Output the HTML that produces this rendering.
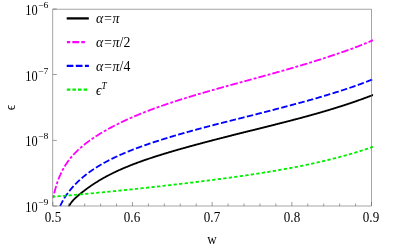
<!DOCTYPE html>
<html><head><meta charset="utf-8"><title>plot</title>
<style>
html,body{margin:0;padding:0;background:#fff;}
body{width:401px;height:249px;overflow:hidden;position:relative;font-family:"Liberation Serif",serif;color:#000;}
svg{position:absolute;left:0;top:0;}
.t{position:absolute;font-size:14px;line-height:14px;white-space:nowrap;filter:grayscale(1);}
.t sup{font-size:9px;line-height:0;vertical-align:baseline;position:relative;top:-6px;}
.yb{text-align:right;width:37.6px;left:0;font-size:14.2px;transform:scaleX(.87);transform-origin:100% 50%;}
.ys{left:37.7px;font-size:9px;transform:scaleX(1.09);transform-origin:0 50%;}
.xl{text-align:center;width:40px;transform:scaleX(.935);transform-origin:50% 50%;}
.u{font-style:normal;}
.lg{font-style:italic;font-size:14.2px;left:95.7px;transform:scaleX(0.975);transform-origin:0 50%;}
</style></head><body>
<svg width="401" height="249" viewBox="0 0 401 249">
<defs><clipPath id="c"><rect x="52.5" y="9.15" width="320.7" height="197.15"/></clipPath></defs>
<g fill="none" stroke-linecap="butt" stroke-linejoin="round" clip-path="url(#c)">
<path d="M68.0,208.2 L68.5,207.1 L69.0,206.1 L69.5,205.2 L70.0,204.4 L70.5,203.6 L71.0,202.9 L71.5,202.2 L72.0,201.6 L72.5,201.0 L73.0,200.5 L73.5,199.9 L74.0,199.4 L74.5,198.9 L75.0,198.4 L75.5,197.9 L76.0,197.5 L76.5,197.0 L77.0,196.6 L77.5,196.1 L78.0,195.7 L78.5,195.3 L79.0,194.8 L79.5,194.4 L80.0,194.0 L80.5,193.6 L81.0,193.2 L81.5,192.8 L82.0,192.4 L82.5,192.0 L83.0,191.6 L83.5,191.2 L84.0,190.9 L84.5,190.5 L85.0,190.1 L85.5,189.7 L86.0,189.3 L86.5,189.0 L87.0,188.6 L87.5,188.3 L88.0,187.9 L88.5,187.5 L89.0,187.2 L89.5,186.8 L90.0,186.5 L90.5,186.1 L91.0,185.8 L91.5,185.4 L92.0,185.1 L92.5,184.8 L93.0,184.4 L93.5,184.1 L94.0,183.8 L94.5,183.5 L95.0,183.1 L95.5,182.8 L96.0,182.5 L96.5,182.2 L97.0,181.9 L97.5,181.6 L98.0,181.2 L98.5,180.9 L99.0,180.6 L99.5,180.3 L100.0,180.0 L100.5,179.7 L101.0,179.4 L101.5,179.2 L102.0,178.9 L102.5,178.6 L103.0,178.3 L103.5,178.0 L104.0,177.7 L104.5,177.5 L105.0,177.2 L105.5,176.9 L106.0,176.6 L106.5,176.4 L107.0,176.1 L107.5,175.8 L108.0,175.6 L108.5,175.3 L109.0,175.0 L109.5,174.8 L110.0,174.5 L110.5,174.3 L111.0,174.0 L111.5,173.8 L112.0,173.5 L112.5,173.3 L113.0,173.0 L113.5,172.8 L114.0,172.5 L114.5,172.3 L115.0,172.1 L115.5,171.8 L116.0,171.6 L116.5,171.3 L117.0,171.1 L117.5,170.9 L118.0,170.7 L118.5,170.4 L119.0,170.2 L119.5,170.0 L120.0,169.8 L120.5,169.5 L121.0,169.3 L121.5,169.1 L122.0,168.9 L122.5,168.7 L123.0,168.4 L123.5,168.2 L124.0,168.0 L124.5,167.8 L125.0,167.6 L125.5,167.4 L126.0,167.2 L126.5,167.0 L127.0,166.8 L127.5,166.6 L128.0,166.4 L128.4,166.2 L128.9,166.0 L129.4,165.8 L129.9,165.6 L130.4,165.4 L130.9,165.2 L131.4,165.0 L131.9,164.8 L132.4,164.6 L132.9,164.4 L133.4,164.2 L133.9,164.0 L134.4,163.8 L134.9,163.6 L135.4,163.5 L135.9,163.3 L136.4,163.1 L136.9,162.9 L137.4,162.7 L137.9,162.5 L138.4,162.3 L138.9,162.2 L139.4,162.0 L139.9,161.8 L140.4,161.6 L140.9,161.4 L141.4,161.3 L141.9,161.1 L142.4,160.9 L142.9,160.7 L143.4,160.6 L143.9,160.4 L144.4,160.2 L144.9,160.0 L145.4,159.9 L145.9,159.7 L146.4,159.5 L146.9,159.4 L147.4,159.2 L147.9,159.0 L148.4,158.8 L148.9,158.7 L149.4,158.5 L149.9,158.3 L150.4,158.2 L150.9,158.0 L151.4,157.8 L151.9,157.7 L152.4,157.5 L152.9,157.4 L153.4,157.2 L153.9,157.0 L154.4,156.9 L154.9,156.7 L155.4,156.5 L155.9,156.4 L156.4,156.2 L156.9,156.1 L157.4,155.9 L157.9,155.7 L158.4,155.6 L158.9,155.4 L159.4,155.3 L159.9,155.1 L160.4,155.0 L160.9,154.8 L161.4,154.6 L161.9,154.5 L162.4,154.3 L162.9,154.2 L163.4,154.0 L163.9,153.9 L164.4,153.7 L164.9,153.6 L165.4,153.4 L165.9,153.3 L166.4,153.1 L166.9,153.0 L167.4,152.8 L167.9,152.7 L168.4,152.5 L168.9,152.4 L169.4,152.2 L169.9,152.1 L170.4,151.9 L170.9,151.8 L171.4,151.6 L171.9,151.5 L172.4,151.3 L172.9,151.2 L173.4,151.0 L173.9,150.9 L174.4,150.7 L174.9,150.6 L175.4,150.5 L175.9,150.3 L176.4,150.2 L176.9,150.0 L177.4,149.9 L177.9,149.7 L178.4,149.6 L178.9,149.4 L179.4,149.3 L179.9,149.2 L180.4,149.0 L180.9,148.9 L181.4,148.7 L181.9,148.6 L182.4,148.5 L182.9,148.3 L183.4,148.2 L183.9,148.0 L184.4,147.9 L184.9,147.8 L185.4,147.6 L185.9,147.5 L186.4,147.3 L186.9,147.2 L187.4,147.1 L187.9,146.9 L188.4,146.8 L188.9,146.6 L189.4,146.5 L189.9,146.4 L190.4,146.2 L190.9,146.1 L191.4,146.0 L191.9,145.8 L192.4,145.7 L192.9,145.6 L193.4,145.4 L193.9,145.3 L194.4,145.1 L194.9,145.0 L195.4,144.9 L195.9,144.7 L196.4,144.6 L196.9,144.5 L197.4,144.3 L197.9,144.2 L198.4,144.1 L198.9,143.9 L199.4,143.8 L199.9,143.7 L200.4,143.5 L200.9,143.4 L201.4,143.3 L201.9,143.1 L202.4,143.0 L202.9,142.9 L203.4,142.7 L203.9,142.6 L204.4,142.5 L204.9,142.3 L205.4,142.2 L205.9,142.1 L206.4,141.9 L206.9,141.8 L207.4,141.7 L207.9,141.5 L208.4,141.4 L208.9,141.3 L209.4,141.1 L209.9,141.0 L210.4,140.9 L210.9,140.8 L211.4,140.6 L211.9,140.5 L212.4,140.4 L212.9,140.2 L213.4,140.1 L213.9,140.0 L214.4,139.8 L214.9,139.7 L215.4,139.6 L215.9,139.5 L216.4,139.3 L216.9,139.2 L217.4,139.1 L217.9,138.9 L218.4,138.8 L218.9,138.7 L219.4,138.6 L219.9,138.4 L220.4,138.3 L220.9,138.2 L221.4,138.0 L221.9,137.9 L222.4,137.8 L222.9,137.7 L223.4,137.5 L223.9,137.4 L224.4,137.3 L224.9,137.1 L225.4,137.0 L225.9,136.9 L226.4,136.8 L226.9,136.6 L227.4,136.5 L227.9,136.4 L228.4,136.3 L228.9,136.1 L229.4,136.0 L229.9,135.9 L230.4,135.8 L230.9,135.6 L231.4,135.5 L231.9,135.4 L232.4,135.2 L232.9,135.1 L233.4,135.0 L233.9,134.9 L234.4,134.7 L234.9,134.6 L235.4,134.5 L235.9,134.4 L236.4,134.2 L236.9,134.1 L237.4,134.0 L237.9,133.9 L238.4,133.7 L238.9,133.6 L239.4,133.5 L239.9,133.4 L240.4,133.2 L240.9,133.1 L241.4,133.0 L241.9,132.9 L242.4,132.7 L242.9,132.6 L243.4,132.5 L243.9,132.4 L244.4,132.2 L244.9,132.1 L245.4,132.0 L245.9,131.9 L246.4,131.7 L246.9,131.6 L247.4,131.5 L247.9,131.4 L248.4,131.2 L248.9,131.1 L249.4,131.0 L249.9,130.9 L250.4,130.7 L250.9,130.6 L251.4,130.5 L251.9,130.4 L252.4,130.3 L252.9,130.1 L253.4,130.0 L253.9,129.9 L254.4,129.8 L254.9,129.6 L255.4,129.5 L255.9,129.4 L256.4,129.3 L256.9,129.1 L257.4,129.0 L257.9,128.9 L258.4,128.8 L258.9,128.6 L259.4,128.5 L259.9,128.4 L260.4,128.3 L260.9,128.1 L261.4,128.0 L261.9,127.9 L262.4,127.8 L262.9,127.6 L263.4,127.5 L263.9,127.4 L264.4,127.3 L264.9,127.1 L265.4,127.0 L265.9,126.9 L266.4,126.8 L266.9,126.6 L267.4,126.5 L267.9,126.4 L268.4,126.3 L268.9,126.1 L269.4,126.0 L269.9,125.9 L270.4,125.8 L270.9,125.6 L271.4,125.5 L271.9,125.4 L272.4,125.3 L272.9,125.1 L273.4,125.0 L273.9,124.9 L274.4,124.8 L274.9,124.6 L275.4,124.5 L275.9,124.4 L276.4,124.2 L276.9,124.1 L277.4,124.0 L277.9,123.9 L278.4,123.7 L278.9,123.6 L279.4,123.5 L279.9,123.4 L280.4,123.2 L280.9,123.1 L281.4,123.0 L281.9,122.9 L282.4,122.7 L282.9,122.6 L283.4,122.5 L283.9,122.3 L284.4,122.2 L284.9,122.1 L285.4,122.0 L285.9,121.8 L286.4,121.7 L286.9,121.6 L287.4,121.4 L287.9,121.3 L288.4,121.2 L288.9,121.1 L289.4,120.9 L289.9,120.8 L290.4,120.7 L290.9,120.5 L291.4,120.4 L291.9,120.3 L292.4,120.1 L292.9,120.0 L293.4,119.9 L293.9,119.7 L294.4,119.6 L294.9,119.5 L295.4,119.4 L295.9,119.2 L296.4,119.1 L296.9,119.0 L297.4,118.8 L297.9,118.7 L298.4,118.6 L298.9,118.4 L299.4,118.3 L299.9,118.2 L300.4,118.0 L300.9,117.9 L301.4,117.8 L301.9,117.6 L302.4,117.5 L302.9,117.4 L303.4,117.2 L303.9,117.1 L304.4,116.9 L304.9,116.8 L305.4,116.7 L305.9,116.5 L306.4,116.4 L306.9,116.3 L307.4,116.1 L307.9,116.0 L308.4,115.9 L308.9,115.7 L309.4,115.6 L309.9,115.4 L310.4,115.3 L310.9,115.2 L311.4,115.0 L311.9,114.9 L312.4,114.7 L312.9,114.6 L313.4,114.5 L313.9,114.3 L314.4,114.2 L314.9,114.0 L315.4,113.9 L315.9,113.8 L316.4,113.6 L316.9,113.5 L317.4,113.3 L317.9,113.2 L318.4,113.0 L318.9,112.9 L319.4,112.8 L319.9,112.6 L320.4,112.5 L320.9,112.3 L321.4,112.2 L321.9,112.0 L322.4,111.9 L322.9,111.7 L323.4,111.6 L323.9,111.5 L324.4,111.3 L324.9,111.2 L325.4,111.0 L325.9,110.9 L326.4,110.7 L326.9,110.6 L327.4,110.4 L327.9,110.3 L328.4,110.1 L328.9,110.0 L329.4,109.8 L329.9,109.7 L330.4,109.5 L330.9,109.4 L331.4,109.2 L331.9,109.1 L332.4,108.9 L332.9,108.8 L333.4,108.6 L333.9,108.4 L334.4,108.3 L334.9,108.1 L335.4,108.0 L335.9,107.8 L336.4,107.7 L336.9,107.5 L337.4,107.4 L337.9,107.2 L338.4,107.0 L338.9,106.9 L339.4,106.7 L339.9,106.6 L340.4,106.4 L340.9,106.3 L341.4,106.1 L341.9,105.9 L342.4,105.8 L342.9,105.6 L343.4,105.5 L343.9,105.3 L344.4,105.1 L344.9,105.0 L345.4,104.8 L345.9,104.6 L346.4,104.5 L346.9,104.3 L347.4,104.1 L347.9,104.0 L348.4,103.8 L348.9,103.6 L349.4,103.5 L349.9,103.3 L350.4,103.1 L350.9,103.0 L351.4,102.8 L351.9,102.6 L352.4,102.5 L352.9,102.3 L353.4,102.1 L353.9,101.9 L354.4,101.8 L354.9,101.6 L355.4,101.4 L355.9,101.3 L356.4,101.1 L356.9,100.9 L357.4,100.7 L357.9,100.6 L358.4,100.4 L358.9,100.2 L359.4,100.0 L359.9,99.8 L360.4,99.7 L360.9,99.5 L361.4,99.3 L361.9,99.1 L362.4,99.0 L362.9,98.8 L363.4,98.6 L363.9,98.4 L364.4,98.2 L364.9,98.0 L365.4,97.9 L365.9,97.7 L366.4,97.5 L366.9,97.3 L367.4,97.1 L367.9,96.9 L368.4,96.7 L368.9,96.6 L369.4,96.4 L369.9,96.2 L370.4,96.0 L370.9,95.8 L371.4,95.6 L371.5,95.6 L372.0,95.4 L372.5,95.2 L373.2,94.9" stroke="#000" stroke-width="1.8"/>
<path d="M52.7,197.9 L53.2,196.7 L53.7,195.0 L54.2,193.2 L54.7,191.3 L55.2,189.4 L55.7,187.7 L56.2,186.0 L56.7,184.4 L57.2,182.8 L57.7,181.3 L58.2,179.9 L58.7,178.6 L59.2,177.3 L59.7,176.1 L60.2,175.0 L60.7,173.8 L61.2,172.8 L61.7,171.7 L62.2,170.7 L62.7,169.8 L63.2,168.9 L63.7,168.0 L64.2,167.1 L64.7,166.3 L65.2,165.5 L65.7,164.7 L66.2,163.9 L66.7,163.2 L67.2,162.4 L67.7,161.7 L68.2,161.0 L68.7,160.4 L69.2,159.7 L69.7,159.1 L70.2,158.4 L70.7,157.8 L71.2,157.2 L71.7,156.6 L72.2,156.1 L72.7,155.5 L73.2,154.9 L73.7,154.4 L74.2,153.9 L74.7,153.3 L75.2,152.8 L75.7,152.3 L76.2,151.8 L76.7,151.3 L77.2,150.8 L77.7,150.3 L78.2,149.9 L78.7,149.4 L79.2,149.0 L79.7,148.5 L80.2,148.1 L80.7,147.6 L81.2,147.2 L81.7,146.8 L82.2,146.3 L82.7,145.9 L83.2,145.5 L83.7,145.1 L84.2,144.7 L84.7,144.3 L85.2,143.9 L85.7,143.5 L86.2,143.1 L86.7,142.7 L87.2,142.4 L87.7,142.0 L88.2,141.6 L88.7,141.2 L89.2,140.9 L89.7,140.5 L90.2,140.2 L90.7,139.8 L91.2,139.5 L91.7,139.1 L92.2,138.8 L92.7,138.4 L93.2,138.1 L93.7,137.7 L94.2,137.4 L94.7,137.1 L95.2,136.8 L95.7,136.4 L96.2,136.1 L96.7,135.8 L97.2,135.5 L97.7,135.2 L98.2,134.8 L98.7,134.5 L99.2,134.2 L99.7,133.9 L100.2,133.6 L100.7,133.3 L101.2,133.0 L101.7,132.7 L102.2,132.4 L102.7,132.1 L103.2,131.8 L103.7,131.5 L104.2,131.2 L104.7,131.0 L105.2,130.7 L105.7,130.4 L106.2,130.1 L106.7,129.8 L107.2,129.5 L107.7,129.3 L108.2,129.0 L108.7,128.7 L109.2,128.4 L109.7,128.2 L110.2,127.9 L110.7,127.6 L111.2,127.4 L111.7,127.1 L112.2,126.8 L112.7,126.6 L113.2,126.3 L113.7,126.0 L114.2,125.8 L114.7,125.5 L115.2,125.3 L115.7,125.0 L116.2,124.8 L116.7,124.5 L117.2,124.3 L117.7,124.0 L118.2,123.8 L118.7,123.5 L119.2,123.3 L119.7,123.0 L120.2,122.8 L120.7,122.6 L121.2,122.3 L121.7,122.1 L122.2,121.8 L122.7,121.6 L123.2,121.4 L123.7,121.1 L124.2,120.9 L124.7,120.7 L125.2,120.4 L125.7,120.2 L126.2,120.0 L126.7,119.7 L127.2,119.5 L127.7,119.3 L128.2,119.1 L128.7,118.8 L129.2,118.6 L129.7,118.4 L130.2,118.2 L130.7,118.0 L131.2,117.7 L131.7,117.5 L132.2,117.3 L132.7,117.1 L133.2,116.9 L133.7,116.7 L134.2,116.4 L134.7,116.2 L135.2,116.0 L135.7,115.8 L136.2,115.6 L136.7,115.4 L137.2,115.2 L137.7,115.0 L138.2,114.8 L138.7,114.5 L139.2,114.3 L139.7,114.1 L140.2,113.9 L140.7,113.7 L141.2,113.5 L141.7,113.3 L142.2,113.1 L142.7,112.9 L143.2,112.7 L143.7,112.5 L144.2,112.3 L144.7,112.1 L145.2,111.9 L145.7,111.7 L146.2,111.5 L146.7,111.3 L147.2,111.1 L147.7,111.0 L148.2,110.8 L148.7,110.6 L149.2,110.4 L149.7,110.2 L150.2,110.0 L150.7,109.8 L151.2,109.6 L151.7,109.4 L152.2,109.3 L152.7,109.1 L153.2,108.9 L153.7,108.7 L154.2,108.5 L154.7,108.3 L155.2,108.2 L155.7,108.0 L156.2,107.8 L156.7,107.6 L157.2,107.4 L157.7,107.3 L158.2,107.1 L158.7,106.9 L159.2,106.7 L159.7,106.5 L160.2,106.4 L160.7,106.2 L161.2,106.0 L161.7,105.8 L162.2,105.7 L162.7,105.5 L163.2,105.3 L163.7,105.2 L164.2,105.0 L164.7,104.8 L165.2,104.6 L165.7,104.5 L166.2,104.3 L166.7,104.1 L167.2,104.0 L167.7,103.8 L168.2,103.6 L168.7,103.5 L169.2,103.3 L169.7,103.1 L170.2,103.0 L170.7,102.8 L171.2,102.6 L171.7,102.5 L172.2,102.3 L172.7,102.1 L173.2,102.0 L173.7,101.8 L174.2,101.6 L174.7,101.5 L175.2,101.3 L175.7,101.2 L176.2,101.0 L176.7,100.8 L177.2,100.7 L177.7,100.5 L178.2,100.4 L178.7,100.2 L179.2,100.0 L179.7,99.9 L180.2,99.7 L180.7,99.6 L181.2,99.4 L181.7,99.2 L182.2,99.1 L182.7,98.9 L183.2,98.8 L183.7,98.6 L184.2,98.5 L184.7,98.3 L185.2,98.2 L185.7,98.0 L186.2,97.8 L186.7,97.7 L187.2,97.5 L187.7,97.4 L188.2,97.2 L188.7,97.1 L189.2,96.9 L189.7,96.8 L190.2,96.6 L190.7,96.5 L191.2,96.3 L191.7,96.2 L192.2,96.0 L192.7,95.9 L193.2,95.7 L193.7,95.6 L194.2,95.4 L194.7,95.3 L195.2,95.1 L195.7,95.0 L196.2,94.8 L196.7,94.7 L197.2,94.5 L197.7,94.4 L198.2,94.2 L198.7,94.1 L199.2,93.9 L199.7,93.8 L200.2,93.6 L200.7,93.5 L201.2,93.3 L201.7,93.2 L202.2,93.1 L202.7,92.9 L203.2,92.8 L203.7,92.6 L204.2,92.5 L204.7,92.3 L205.2,92.2 L205.7,92.0 L206.2,91.9 L206.7,91.8 L207.2,91.6 L207.7,91.5 L208.2,91.3 L208.7,91.2 L209.2,91.0 L209.7,90.9 L210.2,90.8 L210.7,90.6 L211.2,90.5 L211.7,90.3 L212.2,90.2 L212.7,90.0 L213.2,89.9 L213.7,89.8 L214.2,89.6 L214.7,89.5 L215.2,89.3 L215.7,89.2 L216.2,89.1 L216.7,88.9 L217.2,88.8 L217.7,88.6 L218.2,88.5 L218.7,88.4 L219.2,88.2 L219.7,88.1 L220.2,87.9 L220.7,87.8 L221.2,87.7 L221.7,87.5 L222.2,87.4 L222.7,87.2 L223.2,87.1 L223.7,87.0 L224.2,86.8 L224.7,86.7 L225.2,86.6 L225.7,86.4 L226.2,86.3 L226.7,86.1 L227.2,86.0 L227.7,85.9 L228.2,85.7 L228.7,85.6 L229.2,85.4 L229.7,85.3 L230.2,85.2 L230.7,85.0 L231.2,84.9 L231.7,84.8 L232.2,84.6 L232.7,84.5 L233.2,84.3 L233.7,84.2 L234.2,84.1 L234.7,83.9 L235.2,83.8 L235.7,83.7 L236.2,83.5 L236.7,83.4 L237.2,83.3 L237.7,83.1 L238.2,83.0 L238.7,82.8 L239.2,82.7 L239.7,82.6 L240.2,82.4 L240.7,82.3 L241.2,82.2 L241.7,82.0 L242.2,81.9 L242.7,81.8 L243.2,81.6 L243.7,81.5 L244.2,81.3 L244.7,81.2 L245.2,81.1 L245.7,80.9 L246.2,80.8 L246.7,80.7 L247.2,80.5 L247.7,80.4 L248.2,80.3 L248.7,80.1 L249.2,80.0 L249.7,79.8 L250.2,79.7 L250.7,79.6 L251.2,79.4 L251.7,79.3 L252.2,79.2 L252.7,79.0 L253.2,78.9 L253.7,78.7 L254.2,78.6 L254.7,78.5 L255.2,78.3 L255.7,78.2 L256.2,78.1 L256.7,77.9 L257.2,77.8 L257.7,77.7 L258.2,77.5 L258.7,77.4 L259.2,77.2 L259.7,77.1 L260.2,77.0 L260.7,76.8 L261.2,76.7 L261.7,76.6 L262.2,76.4 L262.7,76.3 L263.2,76.1 L263.7,76.0 L264.2,75.9 L264.7,75.7 L265.2,75.6 L265.7,75.5 L266.2,75.3 L266.7,75.2 L267.2,75.0 L267.7,74.9 L268.2,74.8 L268.7,74.6 L269.2,74.5 L269.7,74.3 L270.2,74.2 L270.7,74.1 L271.2,73.9 L271.7,73.8 L272.2,73.6 L272.7,73.5 L273.2,73.4 L273.7,73.2 L274.2,73.1 L274.7,73.0 L275.2,72.8 L275.7,72.7 L276.2,72.5 L276.7,72.4 L277.2,72.2 L277.7,72.1 L278.2,72.0 L278.7,71.8 L279.2,71.7 L279.7,71.5 L280.2,71.4 L280.7,71.3 L281.2,71.1 L281.7,71.0 L282.2,70.8 L282.7,70.7 L283.2,70.6 L283.7,70.4 L284.2,70.3 L284.7,70.1 L285.2,70.0 L285.7,69.8 L286.2,69.7 L286.7,69.6 L287.2,69.4 L287.7,69.3 L288.2,69.1 L288.7,69.0 L289.2,68.8 L289.7,68.7 L290.2,68.5 L290.7,68.4 L291.2,68.3 L291.7,68.1 L292.2,68.0 L292.7,67.8 L293.2,67.7 L293.7,67.5 L294.2,67.4 L294.7,67.2 L295.2,67.1 L295.7,66.9 L296.2,66.8 L296.7,66.6 L297.2,66.5 L297.7,66.3 L298.2,66.2 L298.7,66.1 L299.2,65.9 L299.7,65.8 L300.2,65.6 L300.7,65.5 L301.2,65.3 L301.7,65.2 L302.2,65.0 L302.7,64.9 L303.2,64.7 L303.7,64.6 L304.2,64.4 L304.7,64.3 L305.2,64.1 L305.7,64.0 L306.2,63.8 L306.7,63.7 L307.2,63.5 L307.7,63.3 L308.2,63.2 L308.7,63.0 L309.2,62.9 L309.7,62.7 L310.2,62.6 L310.7,62.4 L311.2,62.3 L311.7,62.1 L312.2,62.0 L312.7,61.8 L313.2,61.7 L313.7,61.5 L314.2,61.3 L314.7,61.2 L315.2,61.0 L315.7,60.9 L316.2,60.7 L316.7,60.6 L317.2,60.4 L317.7,60.2 L318.2,60.1 L318.7,59.9 L319.2,59.8 L319.7,59.6 L320.2,59.5 L320.7,59.3 L321.2,59.1 L321.7,59.0 L322.2,58.8 L322.7,58.7 L323.2,58.5 L323.7,58.3 L324.2,58.2 L324.7,58.0 L325.2,57.8 L325.7,57.7 L326.2,57.5 L326.7,57.4 L327.2,57.2 L327.7,57.0 L328.2,56.9 L328.7,56.7 L329.2,56.5 L329.7,56.4 L330.2,56.2 L330.7,56.0 L331.2,55.9 L331.7,55.7 L332.2,55.5 L332.7,55.4 L333.2,55.2 L333.7,55.0 L334.2,54.9 L334.7,54.7 L335.2,54.5 L335.7,54.4 L336.2,54.2 L336.7,54.0 L337.2,53.9 L337.7,53.7 L338.2,53.5 L338.7,53.3 L339.2,53.2 L339.7,53.0 L340.2,52.8 L340.7,52.7 L341.2,52.5 L341.7,52.3 L342.2,52.1 L342.7,52.0 L343.2,51.8 L343.7,51.6 L344.2,51.4 L344.7,51.3 L345.2,51.1 L345.7,50.9 L346.2,50.7 L346.7,50.6 L347.2,50.4 L347.7,50.2 L348.2,50.0 L348.7,49.8 L349.2,49.7 L349.7,49.5 L350.2,49.3 L350.7,49.1 L351.2,48.9 L351.7,48.8 L352.2,48.6 L352.7,48.4 L353.2,48.2 L353.7,48.0 L354.2,47.8 L354.7,47.6 L355.2,47.4 L355.7,47.2 L356.2,47.0 L356.7,46.9 L357.2,46.7 L357.7,46.5 L358.2,46.3 L358.7,46.1 L359.2,45.9 L359.7,45.7 L360.2,45.5 L360.7,45.3 L361.2,45.1 L361.7,44.9 L362.2,44.7 L362.7,44.5 L363.2,44.3 L363.7,44.1 L364.2,43.9 L364.7,43.7 L365.2,43.5 L365.7,43.3 L366.2,43.1 L366.7,42.9 L367.2,42.7 L367.7,42.4 L368.2,42.2 L368.7,42.0 L369.2,41.8 L369.7,41.6 L370.2,41.4 L370.7,41.2 L371.2,41.0 L371.5,40.8 L372.0,40.6 L372.5,40.4 L373.2,40.1" stroke="#ff00ff" stroke-width="1.8" stroke-dasharray="2.9 2 7.62 2" stroke-dashoffset="0.14"/>
<path d="M59.2,208.6 L59.7,207.3 L60.2,206.1 L60.7,205.0 L61.2,203.9 L61.7,202.9 L62.2,201.9 L62.7,201.0 L63.2,200.1 L63.7,199.2 L64.2,198.4 L64.7,197.6 L65.2,196.8 L65.7,196.1 L66.2,195.3 L66.7,194.6 L67.2,193.9 L67.7,193.2 L68.2,192.5 L68.7,191.9 L69.2,191.2 L69.7,190.6 L70.2,190.0 L70.7,189.4 L71.2,188.8 L71.7,188.2 L72.2,187.6 L72.7,187.0 L73.2,186.5 L73.7,185.9 L74.2,185.4 L74.7,184.9 L75.2,184.3 L75.7,183.8 L76.2,183.3 L76.7,182.8 L77.2,182.3 L77.7,181.8 L78.2,181.4 L78.7,180.9 L79.2,180.4 L79.7,180.0 L80.2,179.5 L80.7,179.1 L81.2,178.6 L81.7,178.2 L82.2,177.8 L82.7,177.3 L83.2,176.9 L83.7,176.5 L84.2,176.1 L84.7,175.7 L85.2,175.3 L85.7,174.9 L86.2,174.5 L86.7,174.1 L87.2,173.7 L87.7,173.4 L88.2,173.0 L88.7,172.6 L89.2,172.3 L89.7,171.9 L90.2,171.5 L90.7,171.2 L91.2,170.8 L91.7,170.5 L92.2,170.1 L92.7,169.8 L93.2,169.5 L93.7,169.1 L94.2,168.8 L94.7,168.5 L95.2,168.2 L95.7,167.8 L96.2,167.5 L96.7,167.2 L97.2,166.9 L97.7,166.6 L98.2,166.3 L98.7,166.0 L99.2,165.7 L99.7,165.4 L100.2,165.1 L100.7,164.8 L101.2,164.5 L101.7,164.2 L102.2,163.9 L102.7,163.6 L103.2,163.4 L103.7,163.1 L104.2,162.8 L104.7,162.5 L105.2,162.3 L105.7,162.0 L106.2,161.7 L106.7,161.5 L107.2,161.2 L107.7,160.9 L108.2,160.7 L108.7,160.4 L109.2,160.2 L109.7,159.9 L110.2,159.6 L110.7,159.4 L111.2,159.1 L111.7,158.9 L112.2,158.6 L112.7,158.4 L113.2,158.2 L113.7,157.9 L114.2,157.7 L114.7,157.4 L115.2,157.2 L115.7,157.0 L116.2,156.7 L116.7,156.5 L117.2,156.3 L117.7,156.0 L118.2,155.8 L118.7,155.6 L119.2,155.4 L119.7,155.1 L120.2,154.9 L120.7,154.7 L121.2,154.5 L121.7,154.3 L122.2,154.0 L122.7,153.8 L123.2,153.6 L123.7,153.4 L124.2,153.2 L124.7,153.0 L125.2,152.8 L125.7,152.6 L126.2,152.3 L126.7,152.1 L127.2,151.9 L127.7,151.7 L128.2,151.5 L128.7,151.3 L129.2,151.1 L129.7,150.9 L130.2,150.7 L130.7,150.5 L131.2,150.3 L131.7,150.1 L132.2,149.9 L132.7,149.7 L133.2,149.5 L133.7,149.3 L134.2,149.2 L134.7,149.0 L135.2,148.8 L135.7,148.6 L136.2,148.4 L136.7,148.2 L137.2,148.0 L137.7,147.8 L138.2,147.6 L138.7,147.5 L139.2,147.3 L139.7,147.1 L140.2,146.9 L140.7,146.7 L141.2,146.5 L141.7,146.4 L142.2,146.2 L142.7,146.0 L143.2,145.8 L143.7,145.7 L144.2,145.5 L144.7,145.3 L145.2,145.1 L145.7,144.9 L146.2,144.8 L146.7,144.6 L147.2,144.4 L147.7,144.3 L148.2,144.1 L148.7,143.9 L149.2,143.7 L149.7,143.6 L150.2,143.4 L150.7,143.2 L151.2,143.1 L151.7,142.9 L152.2,142.7 L152.7,142.6 L153.2,142.4 L153.7,142.2 L154.2,142.1 L154.7,141.9 L155.2,141.7 L155.7,141.6 L156.2,141.4 L156.7,141.3 L157.2,141.1 L157.7,140.9 L158.2,140.8 L158.7,140.6 L159.2,140.4 L159.7,140.3 L160.2,140.1 L160.7,140.0 L161.2,139.8 L161.7,139.7 L162.2,139.5 L162.7,139.3 L163.2,139.2 L163.7,139.0 L164.2,138.9 L164.7,138.7 L165.2,138.6 L165.7,138.4 L166.2,138.3 L166.7,138.1 L167.2,138.0 L167.7,137.8 L168.2,137.6 L168.7,137.5 L169.2,137.3 L169.7,137.2 L170.2,137.0 L170.7,136.9 L171.2,136.7 L171.7,136.6 L172.2,136.4 L172.7,136.3 L173.2,136.1 L173.7,136.0 L174.2,135.8 L174.7,135.7 L175.2,135.6 L175.7,135.4 L176.2,135.3 L176.7,135.1 L177.2,135.0 L177.7,134.8 L178.2,134.7 L178.7,134.5 L179.2,134.4 L179.7,134.2 L180.2,134.1 L180.7,134.0 L181.2,133.8 L181.7,133.7 L182.2,133.5 L182.7,133.4 L183.2,133.2 L183.7,133.1 L184.2,133.0 L184.7,132.8 L185.2,132.7 L185.7,132.5 L186.2,132.4 L186.7,132.3 L187.2,132.1 L187.7,132.0 L188.2,131.8 L188.7,131.7 L189.2,131.6 L189.7,131.4 L190.2,131.3 L190.7,131.1 L191.2,131.0 L191.7,130.9 L192.2,130.7 L192.7,130.6 L193.2,130.5 L193.7,130.3 L194.2,130.2 L194.7,130.0 L195.2,129.9 L195.7,129.8 L196.2,129.6 L196.7,129.5 L197.2,129.4 L197.7,129.2 L198.2,129.1 L198.7,129.0 L199.2,128.8 L199.7,128.7 L200.2,128.6 L200.7,128.4 L201.2,128.3 L201.7,128.2 L202.2,128.0 L202.7,127.9 L203.2,127.8 L203.7,127.6 L204.2,127.5 L204.7,127.4 L205.2,127.2 L205.7,127.1 L206.2,127.0 L206.7,126.8 L207.2,126.7 L207.7,126.6 L208.2,126.4 L208.7,126.3 L209.2,126.2 L209.7,126.0 L210.2,125.9 L210.7,125.8 L211.2,125.7 L211.7,125.5 L212.2,125.4 L212.7,125.3 L213.2,125.1 L213.7,125.0 L214.2,124.9 L214.7,124.7 L215.2,124.6 L215.7,124.5 L216.2,124.4 L216.7,124.2 L217.2,124.1 L217.7,124.0 L218.2,123.8 L218.7,123.7 L219.2,123.6 L219.7,123.5 L220.2,123.3 L220.7,123.2 L221.2,123.1 L221.7,123.0 L222.2,122.8 L222.7,122.7 L223.2,122.6 L223.7,122.4 L224.2,122.3 L224.7,122.2 L225.2,122.1 L225.7,121.9 L226.2,121.8 L226.7,121.7 L227.2,121.6 L227.7,121.4 L228.2,121.3 L228.7,121.2 L229.2,121.0 L229.7,120.9 L230.2,120.8 L230.7,120.7 L231.2,120.5 L231.7,120.4 L232.2,120.3 L232.7,120.2 L233.2,120.0 L233.7,119.9 L234.2,119.8 L234.7,119.7 L235.2,119.5 L235.7,119.4 L236.2,119.3 L236.7,119.2 L237.2,119.0 L237.7,118.9 L238.2,118.8 L238.7,118.7 L239.2,118.5 L239.7,118.4 L240.2,118.3 L240.7,118.2 L241.2,118.0 L241.7,117.9 L242.2,117.8 L242.7,117.7 L243.2,117.5 L243.7,117.4 L244.2,117.3 L244.7,117.2 L245.2,117.0 L245.7,116.9 L246.2,116.8 L246.7,116.7 L247.2,116.5 L247.7,116.4 L248.2,116.3 L248.7,116.2 L249.2,116.0 L249.7,115.9 L250.2,115.8 L250.7,115.7 L251.2,115.5 L251.7,115.4 L252.2,115.3 L252.7,115.2 L253.2,115.0 L253.7,114.9 L254.2,114.8 L254.7,114.6 L255.2,114.5 L255.7,114.4 L256.2,114.3 L256.7,114.1 L257.2,114.0 L257.7,113.9 L258.2,113.7 L258.7,113.6 L259.2,113.5 L259.7,113.4 L260.2,113.2 L260.7,113.1 L261.2,113.0 L261.7,112.9 L262.2,112.7 L262.7,112.6 L263.2,112.5 L263.7,112.3 L264.2,112.2 L264.7,112.1 L265.2,112.0 L265.7,111.8 L266.2,111.7 L266.7,111.6 L267.2,111.4 L267.7,111.3 L268.2,111.2 L268.7,111.1 L269.2,110.9 L269.7,110.8 L270.2,110.7 L270.7,110.5 L271.2,110.4 L271.7,110.3 L272.2,110.1 L272.7,110.0 L273.2,109.9 L273.7,109.8 L274.2,109.6 L274.7,109.5 L275.2,109.4 L275.7,109.2 L276.2,109.1 L276.7,109.0 L277.2,108.8 L277.7,108.7 L278.2,108.6 L278.7,108.4 L279.2,108.3 L279.7,108.2 L280.2,108.1 L280.7,107.9 L281.2,107.8 L281.7,107.7 L282.2,107.5 L282.7,107.4 L283.2,107.3 L283.7,107.1 L284.2,107.0 L284.7,106.9 L285.2,106.7 L285.7,106.6 L286.2,106.5 L286.7,106.3 L287.2,106.2 L287.7,106.1 L288.2,105.9 L288.7,105.8 L289.2,105.7 L289.7,105.5 L290.2,105.4 L290.7,105.3 L291.2,105.1 L291.7,105.0 L292.2,104.9 L292.7,104.7 L293.2,104.6 L293.7,104.5 L294.2,104.3 L294.7,104.2 L295.2,104.1 L295.7,103.9 L296.2,103.8 L296.7,103.7 L297.2,103.5 L297.7,103.4 L298.2,103.3 L298.7,103.1 L299.2,103.0 L299.7,102.9 L300.2,102.7 L300.7,102.6 L301.2,102.5 L301.7,102.3 L302.2,102.2 L302.7,102.0 L303.2,101.9 L303.7,101.8 L304.2,101.6 L304.7,101.5 L305.2,101.4 L305.7,101.2 L306.2,101.1 L306.7,100.9 L307.2,100.8 L307.7,100.7 L308.2,100.5 L308.7,100.4 L309.2,100.2 L309.7,100.1 L310.2,100.0 L310.7,99.8 L311.2,99.7 L311.7,99.5 L312.2,99.4 L312.7,99.3 L313.2,99.1 L313.7,99.0 L314.2,98.8 L314.7,98.7 L315.2,98.5 L315.7,98.4 L316.2,98.3 L316.7,98.1 L317.2,98.0 L317.7,97.8 L318.2,97.7 L318.7,97.5 L319.2,97.4 L319.7,97.2 L320.2,97.1 L320.7,96.9 L321.2,96.8 L321.7,96.6 L322.2,96.5 L322.7,96.3 L323.2,96.2 L323.7,96.0 L324.2,95.9 L324.7,95.7 L325.2,95.6 L325.7,95.4 L326.2,95.3 L326.7,95.1 L327.2,95.0 L327.7,94.8 L328.2,94.7 L328.7,94.5 L329.2,94.4 L329.7,94.2 L330.2,94.1 L330.7,93.9 L331.2,93.8 L331.7,93.6 L332.2,93.5 L332.7,93.3 L333.2,93.2 L333.7,93.0 L334.2,92.9 L334.7,92.7 L335.2,92.5 L335.7,92.4 L336.2,92.2 L336.7,92.1 L337.2,91.9 L337.7,91.8 L338.2,91.6 L338.7,91.4 L339.2,91.3 L339.7,91.1 L340.2,91.0 L340.7,90.8 L341.2,90.6 L341.7,90.5 L342.2,90.3 L342.7,90.2 L343.2,90.0 L343.7,89.8 L344.2,89.7 L344.7,89.5 L345.2,89.3 L345.7,89.2 L346.2,89.0 L346.7,88.8 L347.2,88.7 L347.7,88.5 L348.2,88.3 L348.7,88.2 L349.2,88.0 L349.7,87.8 L350.2,87.7 L350.7,87.5 L351.2,87.3 L351.7,87.2 L352.2,87.0 L352.7,86.8 L353.2,86.6 L353.7,86.5 L354.2,86.3 L354.7,86.1 L355.2,85.9 L355.7,85.8 L356.2,85.6 L356.7,85.4 L357.2,85.2 L357.7,85.1 L358.2,84.9 L358.7,84.7 L359.2,84.5 L359.7,84.3 L360.2,84.1 L360.7,84.0 L361.2,83.8 L361.7,83.6 L362.2,83.4 L362.7,83.2 L363.2,83.0 L363.7,82.8 L364.2,82.6 L364.7,82.4 L365.2,82.3 L365.7,82.1 L366.2,81.9 L366.7,81.7 L367.2,81.5 L367.7,81.3 L368.2,81.1 L368.7,80.9 L369.2,80.7 L369.7,80.5 L370.2,80.3 L370.7,80.1 L371.2,79.9 L371.5,79.8 L372.0,79.6 L372.5,79.4 L373.2,79.1" stroke="#0000ff" stroke-width="1.8" stroke-dasharray="6.52 2.39" stroke-dashoffset="-2.52"/>
<path d="M52.5,196.7 L53.0,196.6 L53.5,196.6 L54.0,196.6 L54.5,196.5 L55.0,196.5 L55.5,196.4 L56.0,196.4 L56.5,196.4 L57.0,196.3 L57.5,196.3 L58.0,196.3 L58.5,196.2 L59.0,196.2 L59.5,196.1 L60.0,196.1 L60.5,196.1 L61.0,196.0 L61.5,196.0 L62.0,196.0 L62.5,195.9 L63.0,195.9 L63.5,195.8 L64.0,195.8 L64.5,195.8 L65.0,195.7 L65.5,195.7 L66.0,195.6 L66.5,195.6 L67.0,195.5 L67.5,195.5 L68.0,195.5 L68.5,195.4 L69.0,195.4 L69.5,195.3 L70.0,195.3 L70.5,195.3 L71.0,195.2 L71.5,195.2 L72.0,195.1 L72.5,195.1 L73.0,195.0 L73.5,195.0 L74.0,195.0 L74.5,194.9 L75.0,194.9 L75.5,194.8 L76.0,194.8 L76.5,194.7 L77.0,194.7 L77.5,194.7 L78.0,194.6 L78.5,194.6 L79.0,194.5 L79.5,194.5 L80.0,194.4 L80.5,194.4 L81.0,194.3 L81.5,194.3 L82.0,194.3 L82.5,194.2 L83.0,194.2 L83.5,194.1 L84.0,194.1 L84.5,194.0 L85.0,194.0 L85.5,193.9 L86.0,193.9 L86.5,193.8 L87.0,193.8 L87.5,193.7 L88.0,193.7 L88.5,193.7 L89.0,193.6 L89.5,193.6 L90.0,193.5 L90.5,193.5 L91.0,193.4 L91.5,193.4 L92.0,193.3 L92.5,193.3 L93.0,193.2 L93.5,193.2 L94.0,193.1 L94.5,193.1 L95.0,193.0 L95.5,193.0 L96.0,192.9 L96.5,192.9 L97.0,192.8 L97.5,192.8 L98.0,192.7 L98.5,192.7 L99.0,192.6 L99.5,192.6 L100.0,192.5 L100.5,192.5 L101.0,192.5 L101.5,192.4 L102.0,192.4 L102.5,192.3 L103.0,192.3 L103.5,192.2 L104.0,192.2 L104.5,192.1 L105.0,192.1 L105.5,192.0 L106.0,192.0 L106.5,191.9 L107.0,191.9 L107.5,191.8 L108.0,191.8 L108.5,191.7 L109.0,191.7 L109.5,191.6 L110.0,191.6 L110.5,191.5 L111.0,191.5 L111.5,191.4 L112.0,191.4 L112.5,191.3 L113.0,191.3 L113.5,191.2 L114.0,191.2 L114.5,191.1 L115.0,191.1 L115.5,191.0 L116.0,191.0 L116.5,190.9 L117.0,190.9 L117.5,190.8 L118.0,190.8 L118.5,190.7 L119.0,190.7 L119.5,190.6 L120.0,190.6 L120.5,190.5 L121.0,190.5 L121.5,190.4 L122.0,190.4 L122.5,190.3 L123.0,190.3 L123.5,190.2 L124.0,190.2 L124.5,190.1 L125.0,190.0 L125.5,190.0 L126.0,189.9 L126.5,189.9 L127.0,189.8 L127.5,189.8 L128.0,189.7 L128.5,189.7 L129.0,189.6 L129.5,189.6 L130.0,189.5 L130.5,189.5 L131.0,189.4 L131.5,189.4 L132.0,189.3 L132.5,189.3 L133.0,189.2 L133.5,189.2 L134.0,189.1 L134.5,189.0 L135.0,189.0 L135.5,188.9 L136.0,188.9 L136.5,188.8 L137.0,188.8 L137.5,188.7 L138.0,188.7 L138.5,188.6 L139.0,188.6 L139.5,188.5 L140.0,188.5 L140.5,188.4 L141.0,188.4 L141.5,188.3 L142.0,188.2 L142.5,188.2 L143.0,188.1 L143.5,188.1 L144.0,188.0 L144.5,188.0 L145.0,187.9 L145.5,187.9 L146.0,187.8 L146.5,187.8 L147.0,187.7 L147.5,187.6 L148.0,187.6 L148.5,187.5 L149.0,187.5 L149.5,187.4 L150.0,187.4 L150.5,187.3 L151.0,187.3 L151.5,187.2 L152.0,187.1 L152.5,187.1 L153.0,187.0 L153.5,187.0 L154.0,186.9 L154.5,186.9 L155.0,186.8 L155.5,186.8 L156.0,186.7 L156.5,186.6 L157.0,186.6 L157.5,186.5 L158.0,186.5 L158.5,186.4 L159.0,186.4 L159.5,186.3 L160.0,186.3 L160.5,186.2 L161.0,186.1 L161.5,186.1 L162.0,186.0 L162.5,186.0 L163.0,185.9 L163.5,185.9 L164.0,185.8 L164.5,185.7 L165.0,185.7 L165.5,185.6 L166.0,185.6 L166.5,185.5 L167.0,185.5 L167.5,185.4 L168.0,185.3 L168.5,185.3 L169.0,185.2 L169.5,185.2 L170.0,185.1 L170.5,185.1 L171.0,185.0 L171.5,184.9 L172.0,184.9 L172.5,184.8 L173.0,184.8 L173.5,184.7 L174.0,184.7 L174.5,184.6 L175.0,184.5 L175.5,184.5 L176.0,184.4 L176.5,184.4 L177.0,184.3 L177.5,184.2 L178.0,184.2 L178.5,184.1 L179.0,184.1 L179.5,184.0 L180.0,183.9 L180.5,183.9 L181.0,183.8 L181.5,183.8 L182.0,183.7 L182.5,183.7 L183.0,183.6 L183.5,183.5 L184.0,183.5 L184.5,183.4 L185.0,183.4 L185.5,183.3 L186.0,183.2 L186.5,183.2 L187.0,183.1 L187.5,183.1 L188.0,183.0 L188.5,182.9 L189.0,182.9 L189.5,182.8 L190.0,182.8 L190.5,182.7 L191.0,182.6 L191.5,182.6 L192.0,182.5 L192.5,182.5 L193.0,182.4 L193.5,182.3 L194.0,182.3 L194.5,182.2 L195.0,182.2 L195.5,182.1 L196.0,182.0 L196.5,182.0 L197.0,181.9 L197.5,181.8 L198.0,181.8 L198.5,181.7 L199.0,181.7 L199.5,181.6 L200.0,181.5 L200.5,181.5 L201.0,181.4 L201.5,181.3 L202.0,181.3 L202.5,181.2 L203.0,181.2 L203.5,181.1 L204.0,181.0 L204.5,181.0 L205.0,180.9 L205.5,180.8 L206.0,180.8 L206.5,180.7 L207.0,180.7 L207.5,180.6 L208.0,180.5 L208.5,180.5 L209.0,180.4 L209.5,180.3 L210.0,180.3 L210.5,180.2 L211.0,180.1 L211.5,180.1 L212.0,180.0 L212.5,180.0 L213.0,179.9 L213.5,179.8 L214.0,179.8 L214.5,179.7 L215.0,179.6 L215.5,179.6 L216.0,179.5 L216.5,179.4 L217.0,179.4 L217.5,179.3 L218.0,179.2 L218.5,179.2 L219.0,179.1 L219.5,179.0 L220.0,179.0 L220.5,178.9 L221.0,178.8 L221.5,178.8 L222.0,178.7 L222.5,178.6 L223.0,178.6 L223.5,178.5 L224.0,178.4 L224.5,178.4 L225.0,178.3 L225.5,178.2 L226.0,178.2 L226.5,178.1 L227.0,178.0 L227.5,178.0 L228.0,177.9 L228.5,177.8 L229.0,177.8 L229.5,177.7 L230.0,177.6 L230.5,177.6 L231.0,177.5 L231.5,177.4 L232.0,177.4 L232.5,177.3 L233.0,177.2 L233.5,177.2 L234.0,177.1 L234.5,177.0 L235.0,176.9 L235.5,176.9 L236.0,176.8 L236.5,176.7 L237.0,176.7 L237.5,176.6 L238.0,176.5 L238.5,176.4 L239.0,176.4 L239.5,176.3 L240.0,176.2 L240.5,176.2 L241.0,176.1 L241.5,176.0 L242.0,175.9 L242.5,175.9 L243.0,175.8 L243.5,175.7 L244.0,175.7 L244.5,175.6 L245.0,175.5 L245.5,175.4 L246.0,175.4 L246.5,175.3 L247.0,175.2 L247.5,175.1 L248.0,175.1 L248.5,175.0 L249.0,174.9 L249.5,174.8 L250.0,174.8 L250.5,174.7 L251.0,174.6 L251.5,174.5 L252.0,174.5 L252.5,174.4 L253.0,174.3 L253.5,174.2 L254.0,174.2 L254.5,174.1 L255.0,174.0 L255.5,173.9 L256.0,173.9 L256.5,173.8 L257.0,173.7 L257.5,173.6 L258.0,173.6 L258.5,173.5 L259.0,173.4 L259.5,173.3 L260.0,173.2 L260.5,173.2 L261.0,173.1 L261.5,173.0 L262.0,172.9 L262.5,172.8 L263.0,172.8 L263.5,172.7 L264.0,172.6 L264.5,172.5 L265.0,172.4 L265.5,172.4 L266.0,172.3 L266.5,172.2 L267.0,172.1 L267.5,172.0 L268.0,172.0 L268.5,171.9 L269.0,171.8 L269.5,171.7 L270.0,171.6 L270.5,171.5 L271.0,171.5 L271.5,171.4 L272.0,171.3 L272.5,171.2 L273.0,171.1 L273.5,171.0 L274.0,171.0 L274.5,170.9 L275.0,170.8 L275.5,170.7 L276.0,170.6 L276.5,170.5 L277.0,170.4 L277.5,170.4 L278.0,170.3 L278.5,170.2 L279.0,170.1 L279.5,170.0 L280.0,169.9 L280.5,169.8 L281.0,169.7 L281.5,169.7 L282.0,169.6 L282.5,169.5 L283.0,169.4 L283.5,169.3 L284.0,169.2 L284.5,169.1 L285.0,169.0 L285.5,168.9 L286.0,168.8 L286.5,168.7 L287.0,168.7 L287.5,168.6 L288.0,168.5 L288.5,168.4 L289.0,168.3 L289.5,168.2 L290.0,168.1 L290.5,168.0 L291.0,167.9 L291.5,167.8 L292.0,167.7 L292.5,167.6 L293.0,167.5 L293.5,167.4 L294.0,167.3 L294.5,167.2 L295.0,167.1 L295.5,167.1 L296.0,167.0 L296.5,166.9 L297.0,166.8 L297.5,166.7 L298.0,166.6 L298.5,166.5 L299.0,166.4 L299.5,166.3 L300.0,166.2 L300.5,166.1 L301.0,166.0 L301.5,165.9 L302.0,165.8 L302.5,165.7 L303.0,165.6 L303.5,165.5 L304.0,165.4 L304.5,165.2 L305.0,165.1 L305.5,165.0 L306.0,164.9 L306.5,164.8 L307.0,164.7 L307.5,164.6 L308.0,164.5 L308.5,164.4 L309.0,164.3 L309.5,164.2 L310.0,164.1 L310.5,164.0 L311.0,163.9 L311.5,163.8 L312.0,163.7 L312.5,163.6 L313.0,163.4 L313.5,163.3 L314.0,163.2 L314.5,163.1 L315.0,163.0 L315.5,162.9 L316.0,162.8 L316.5,162.7 L317.0,162.6 L317.5,162.4 L318.0,162.3 L318.5,162.2 L319.0,162.1 L319.5,162.0 L320.0,161.9 L320.5,161.8 L321.0,161.6 L321.5,161.5 L322.0,161.4 L322.5,161.3 L323.0,161.2 L323.5,161.1 L324.0,160.9 L324.5,160.8 L325.0,160.7 L325.5,160.6 L326.0,160.5 L326.5,160.3 L327.0,160.2 L327.5,160.1 L328.0,160.0 L328.5,159.9 L329.0,159.7 L329.5,159.6 L330.0,159.5 L330.5,159.4 L331.0,159.2 L331.5,159.1 L332.0,159.0 L332.5,158.9 L333.0,158.7 L333.5,158.6 L334.0,158.5 L334.5,158.3 L335.0,158.2 L335.5,158.1 L336.0,158.0 L336.5,157.8 L337.0,157.7 L337.5,157.6 L338.0,157.4 L338.5,157.3 L339.0,157.2 L339.5,157.0 L340.0,156.9 L340.5,156.8 L341.0,156.6 L341.5,156.5 L342.0,156.4 L342.5,156.2 L343.0,156.1 L343.5,156.0 L344.0,155.8 L344.5,155.7 L345.0,155.5 L345.5,155.4 L346.0,155.3 L346.5,155.1 L347.0,155.0 L347.5,154.8 L348.0,154.7 L348.5,154.6 L349.0,154.4 L349.5,154.3 L350.0,154.1 L350.5,154.0 L351.0,153.8 L351.5,153.7 L352.0,153.6 L352.5,153.4 L353.0,153.3 L353.5,153.1 L354.0,153.0 L354.5,152.8 L355.0,152.7 L355.5,152.5 L356.0,152.4 L356.5,152.2 L357.0,152.1 L357.5,151.9 L358.0,151.8 L358.5,151.6 L359.0,151.4 L359.5,151.3 L360.0,151.1 L360.5,151.0 L361.0,150.8 L361.5,150.7 L362.0,150.5 L362.5,150.3 L363.0,150.2 L363.5,150.0 L364.0,149.9 L364.5,149.7 L365.0,149.5 L365.5,149.4 L366.0,149.2 L366.5,149.1 L367.0,148.9 L367.5,148.7 L368.0,148.6 L368.5,148.4 L369.0,148.2 L369.5,148.1 L370.0,147.9 L370.5,147.7 L371.0,147.5 L371.5,147.4 L372.0,147.2 L372.5,147.0 L373.2,146.8" stroke="#00f000" stroke-width="1.8" stroke-dasharray="3.3 2.285" stroke-dashoffset="0.6"/>
</g>
<g stroke="#6a6a6a" stroke-width="0.6" fill="none">
<rect x="52.8" y="9.15" width="318.7" height="196.85"/>
<g stroke-width="0.66"><line x1="52.80" y1="206.0" x2="52.80" y2="202.0"/><line x1="68.74" y1="206.0" x2="68.74" y2="203.5"/><line x1="84.67" y1="206.0" x2="84.67" y2="203.5"/><line x1="100.61" y1="206.0" x2="100.61" y2="203.5"/><line x1="116.54" y1="206.0" x2="116.54" y2="203.5"/><line x1="132.47" y1="206.0" x2="132.47" y2="202.0"/><line x1="148.41" y1="206.0" x2="148.41" y2="203.5"/><line x1="164.34" y1="206.0" x2="164.34" y2="203.5"/><line x1="180.28" y1="206.0" x2="180.28" y2="203.5"/><line x1="196.21" y1="206.0" x2="196.21" y2="203.5"/><line x1="212.15" y1="206.0" x2="212.15" y2="202.0"/><line x1="228.08" y1="206.0" x2="228.08" y2="203.5"/><line x1="244.02" y1="206.0" x2="244.02" y2="203.5"/><line x1="259.95" y1="206.0" x2="259.95" y2="203.5"/><line x1="275.89" y1="206.0" x2="275.89" y2="203.5"/><line x1="291.83" y1="206.0" x2="291.83" y2="202.0"/><line x1="307.76" y1="206.0" x2="307.76" y2="203.5"/><line x1="323.70" y1="206.0" x2="323.70" y2="203.5"/><line x1="339.63" y1="206.0" x2="339.63" y2="203.5"/><line x1="355.56" y1="206.0" x2="355.56" y2="203.5"/><line x1="371.50" y1="206.0" x2="371.50" y2="202.0"/><line x1="52.8" y1="9.00" x2="56.8" y2="9.00"/><line x1="52.8" y1="74.50" x2="56.8" y2="74.50"/><line x1="52.8" y1="140.40" x2="56.8" y2="140.40"/><line x1="52.8" y1="206.00" x2="56.8" y2="206.00"/></g>
</g>
<g fill="none" stroke-width="2.3">
<line x1="66.7" y1="18.4" x2="88.8" y2="18.4" stroke="#000"/>
<path d="M66.9,42.1h3.3m2.1,0h6.9m2.1,0h3.6" stroke="#ff00ff"/>
<path d="M66.7,65.8h6.7m2.4,0h6.7m2.4,0h4.0" stroke="#0000ff"/>
<path d="M66.8,89.6h3.5m2.1,0h3.5m2.1,0h3.5m2.1,0h3.6" stroke="#00f000"/>
</g>
</svg>
<div class="t yb" style="top:3px;transform:scaleX(.87)">10</div><div class="t ys" style="top:-2px;transform:scaleX(1.09)">−6</div>
<div class="t yb" style="top:69px;transform:scaleX(.87)">10</div><div class="t ys" style="top:64px;transform:scaleX(1.09)">−7</div>
<div class="t yb" style="top:134px;transform:scaleX(.87)">10</div><div class="t ys" style="top:129px;transform:scaleX(1.09)">−8</div>
<div class="t yb" style="top:200px;transform:scaleX(.87)">10</div><div class="t ys" style="top:195px;transform:scaleX(1.09)">−9</div>
<div class="t xl" style="left:32.70px;top:211.35px">0.5</div>
<div class="t xl" style="left:112.38px;top:211.35px">0.6</div>
<div class="t xl" style="left:192.05px;top:211.35px">0.7</div>
<div class="t xl" style="left:271.72px;top:211.35px">0.8</div>
<div class="t xl" style="left:351.40px;top:211.35px">0.9</div>
<div class="t xl" style="left:192.1px;top:232.7px">w</div>
<div class="t" style="left:4.1px;top:101.1px;width:13px;height:13px;transform:rotate(-90deg);text-align:center">ϵ</div>
<div class="t lg" style="top:11.3px">α=π</div>
<div class="t lg" style="top:35.3px">α=π<span class="u">/2</span></div>
<div class="t lg" style="top:58.5px">α=π<span class="u">/4</span></div>
<div class="t lg" style="top:82.5px">ϵ<sup style="top:-5.5px;font-size:9.5px">T</sup></div>
</body></html>
